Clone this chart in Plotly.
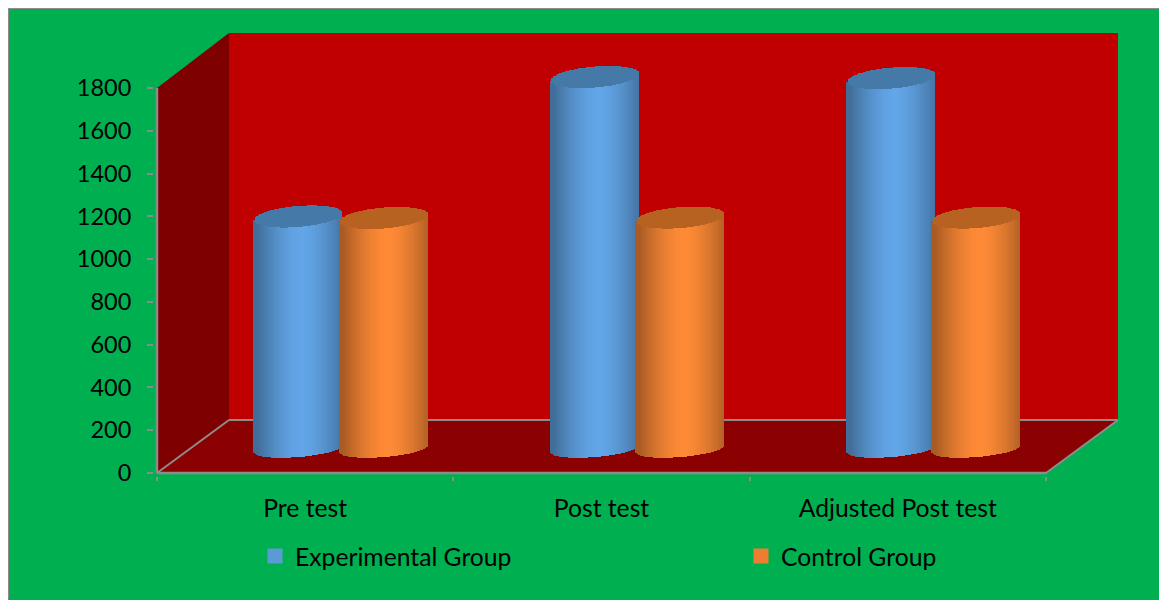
import numpy as np
import plotly.graph_objects as go

categories = ["Pre test", "Post test", "Adjusted Post test"]
experimental = [1087, 1739, 1734]
control = [1080, 1082, 1082]
y_ticks = [0, 200, 400, 600, 800, 1000, 1200, 1400, 1600, 1800]
series_names = ["Experimental Group", "Control Group"]

W, H = 1159, 592
OX, OY = 8, 8
# page pixel frame of the plot
PAD = 3
PX0, PX_AXIS, PX1 = 157, 1046, 1118
PY_TOP, PY_AXIS_TOP, PY_ZERO = 33, 88, 473.5
UX = (PX_AXIS - PX0) / 3.0      # px per category
UY = (PY_ZERO - PY_AXIS_TOP) / 1800.0  # px per value unit
XMAX = (PX1 - PX0) / UX
YMAX = (PY_ZERO - PY_TOP) / UY
DX = 72 / UX                    # depth in x
DY = 53 / UY                    # depth in y
BASE = (PY_ZERO - 449.5) / UY   # cylinder floor level
A = 44.0 / UX                   # cylinder half width
B = 10.5 / UY                   # top ellipse half height
B_LOW = 8.0 / UY                # floor arc half height
K = 3.5 / UY                    # ellipse slant
STRIP = 1.5 / UX
OFFSETS = [0.478, 0.766]

PLOT_W = PX1 - PX0 + PAD
PLOT_H = PY_ZERO - PY_TOP + PAD


def paper_x(px):
    return (px - (PX0 - PAD)) / PLOT_W


def paper_y(py):
    return ((PY_ZERO + PAD) - py) / PLOT_H


def shade(rgb, u):
    f = 0.66 + 0.34 * np.clip(1 - np.abs(u - 0.08) ** 1.6, 0, 1)
    return "rgb({},{},{})".format(*[int(round(c * f)) for c in rgb])


def cylinders(values, off, rgb, top_rgb):
    xs, body_base, body_h, body_c, top_base, top_h = [], [], [], [], [], []
    for i, v in enumerate(values):
        cx = i + off
        for u in np.arange(-1, 1.0001, STRIP / A):
            root = np.sqrt(max(0, 1 - u * u))
            lo = BASE + K * u - B_LOW * root
            mid = BASE + v + K * u
            half = B * root
            xs.append(cx + u * A)
            body_base.append(lo)
            body_h.append(mid - lo)
            body_c.append(shade(rgb, u))
            top_base.append(mid - half)
            top_h.append(2 * half)
    common = dict(x=xs, width=STRIP, showlegend=False, hoverinfo="skip")
    return [
        go.Bar(y=body_h, base=body_base, marker=dict(color=body_c, line_width=0), **common),
        go.Bar(y=top_h, base=top_base, marker=dict(color=top_rgb, line_width=0), **common),
    ]


fig = go.Figure()
for t in cylinders(experimental, OFFSETS[0], (98, 166, 232), "#457AA8"):
    fig.add_trace(t)
for t in cylinders(control, OFFSETS[1], (255, 138, 54), "#B86222"):
    fig.add_trace(t)

for name, col, leg in zip(series_names, ["#5B9BD5", "#ED7D31"], ["legend", "legend2"]):
    fig.add_trace(go.Scatter(x=[None], y=[None], mode="markers", name=name, legend=leg,
                             marker=dict(symbol="square", size=15, color=col)))


def poly(pts):
    return "M " + " L ".join(f"{x},{y}" for x, y in pts) + " Z"


GRID = "#8C8C8C"
shapes = [
    dict(type="rect", x0=DX, x1=XMAX, y0=DY, y1=YMAX, fillcolor="#C00000", line_width=0, layer="below"),
    dict(type="path", path=poly([(0, 0), (DX, DY), (DX, YMAX), (0, 1800)]),
         fillcolor="#7F0000", line_width=0, layer="below"),
    dict(type="path", path=poly([(0, 0), (3, 0), (XMAX, DY), (DX, DY)]),
         fillcolor="#8B0000", line_width=0, layer="below"),
    dict(type="line", x0=DX, x1=XMAX, y0=DY, y1=DY, line=dict(color=GRID, width=2), layer="below"),
    dict(type="line", x0=0, x1=DX, y0=0, y1=DY, line=dict(color=GRID, width=2), layer="below"),
    dict(type="line", x0=3, x1=XMAX, y0=0, y1=DY, line=dict(color=GRID, width=2), layer="below"),
    dict(type="line", x0=0, x1=3, y0=0, y1=0, line=dict(color=GRID, width=2.5), layer="below"),
    dict(type="line", x0=0, x1=0, y0=0, y1=1800, line=dict(color=GRID, width=2.5), layer="below"),
    dict(type="line", xref="paper", yref="paper", x0=paper_x(OX), x1=paper_x(OX + W),
         y0=paper_y(OY), y1=paper_y(OY), line=dict(color=GRID, width=2)),
    dict(type="line", xref="paper", yref="paper", x0=paper_x(OX), x1=paper_x(OX),
         y0=paper_y(OY), y1=paper_y(OY + H), line=dict(color=GRID, width=2)),
]

TICK_FONT = dict(family="Lato, Carlito, sans-serif", size=23.5, color="#000000")
FONT = dict(family="Lato, Carlito, sans-serif", size=24.7, color="#000000")
LEGEND = dict(orientation="h", xanchor="left", yanchor="middle", y=paper_y(557),
              bgcolor="rgba(0,0,0,0)", font=FONT, itemclick=False, itemdoubleclick=False)
fig.update_layout(
    width=W, height=H, autosize=False,
    margin=dict(l=PX0 - PAD - OX, r=W - (PX1 - OX), t=PY_TOP - OY, b=H - (PY_ZERO + PAD - OY), pad=0),
    paper_bgcolor="#00B050", plot_bgcolor="rgba(0,0,0,0)",
    barmode="overlay", bargap=0, font=FONT, shapes=shapes,
    xaxis=dict(range=[-PAD / UX, XMAX], tickmode="array", tickvals=[0.5, 1.5, 2.5], ticktext=categories,
               ticks="", showgrid=False, zeroline=False, showline=False, ticklabelstandoff=15,
               tickfont=FONT,
               minor=dict(tickmode="array", tickvals=[0, 1, 2, 3], ticks="outside", ticklen=4,
                          tickcolor=GRID, tickwidth=1.5, showgrid=False)),
    yaxis=dict(range=[-PAD / UY, YMAX], tickmode="array", tickvals=y_ticks, ticks="outside", ticklen=6,
               tickcolor=GRID, tickwidth=1.5, showgrid=False, zeroline=False, showline=False,
               tickfont=TICK_FONT, ticklabelstandoff=11),
    legend=dict(x=paper_x(255), **LEGEND),
    legend2=dict(x=paper_x(741), **LEGEND),
)

fig.write_html("out.html")
